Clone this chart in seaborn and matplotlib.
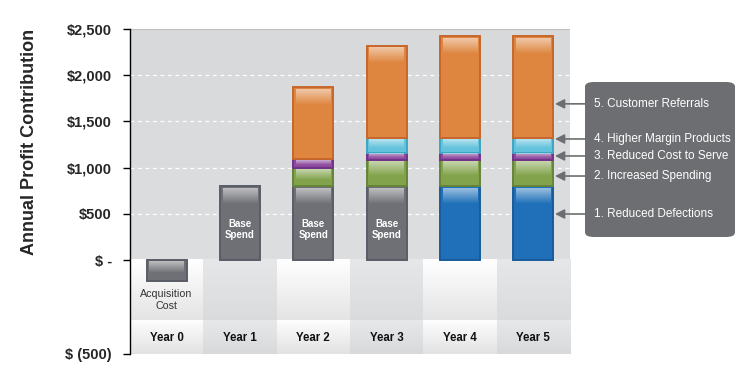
import matplotlib
matplotlib.use("Agg")
import matplotlib.pyplot as plt
import numpy as np
import pandas as pd
import seaborn as sns
from matplotlib.colors import to_rgb
from matplotlib.patches import FancyBboxPatch

# data (dollars per customer, stacked bottom -> top)
years = ["Year 0", "Year 1", "Year 2", "Year 3", "Year 4", "Year 5"]
base_spend = [0, 800, 800, 800, 0, 0]
reduced_defections = [0, 0, 0, 0, 800, 800]
increased_spending = [0, 0, 200, 280, 280, 280]
reduced_cost_to_serve = [0, 0, 90, 80, 80, 80]
higher_margin_products = [0, 0, 0, 160, 160, 160]
customer_referrals = [0, 0, 780, 1000, 1100, 1100]
acquisition_cost = [-110, 0, 0, 0, 0, 0]

legend_labels = ["5. Customer Referrals", "4. Higher Margin Products",
                 "3. Reduced Cost to Serve", "2. Increased Spending",
                 "1. Reduced Defections"]
y_ticks = [2500, 2000, 1500, 1000, 500, 0]
y_tick_labels = ["$2,500", "$2,000", "$1,500", "$1,000", "$500", "$ -"]

df = pd.DataFrame({
    "year": years,
    "base_spend": base_spend,
    "reduced_defections": reduced_defections,
    "increased_spending": increased_spending,
    "reduced_cost_to_serve": reduced_cost_to_serve,
    "higher_margin_products": higher_margin_products,
    "customer_referrals": customer_referrals,
    "acquisition_cost": acquisition_cost,
})

# the part of the axis below zero is squeezed: $500 there spans ~2x as much room
NEG_SCALE = 2.034
Y_BOTTOM = -500 * NEG_SCALE
ROW_SPLIT = -650      # boundary between the note row and the year row
BAR_W = 0.545

sns.set_style("white")
plt.rcParams["font.family"] = ["Liberation Sans", "DejaVu Sans"]

fig = plt.figure(figsize=(7.55, 3.8), dpi=100)
ax = fig.add_axes([130 / 755, 26 / 380, 440 / 755, 325 / 380])


def gradient_box(x0, x1, y0, y1, c_top, c_bottom, z):
    t = np.linspace(0, 1, 64)[:, None]
    rgb = (1 - t) * np.array(to_rgb(c_top)) + t * np.array(to_rgb(c_bottom))
    ax.imshow(rgb[:, None, :], extent=(x0, x1, y0, y1), origin="upper",
              aspect="auto", zorder=z, interpolation="bilinear")


def add_gloss(patch):
    x, w = patch.get_x(), patch.get_width()
    y0 = min(patch.get_y(), patch.get_y() + patch.get_height())
    y1 = max(patch.get_y(), patch.get_y() + patch.get_height())
    h = y1 - y0
    top = y1 - min(22, h * 0.15)
    g = min(h * 0.55, 170)
    a = np.linspace(0.55, 0.0, 64)[:, None]
    rgba = np.ones((64, 1, 4))
    rgba[:, :, 3] = a
    ax.imshow(rgba, extent=(x + 0.035, x + w - 0.035, top - g, top),
              origin="upper", aspect="auto", zorder=4, interpolation="bilinear")


# plot background: grey panel above zero, table-like columns below
gradient_box(-0.5, 5.5, 0, 2500, "#d8d9db", "#dddedf", 0.2)
for i in range(len(years)):
    if i % 2 == 0:
        gradient_box(i - 0.5, i + 0.5, ROW_SPLIT, 0, "#ffffff", "#e4e4e5", 0.3)
        gradient_box(i - 0.5, i + 0.5, Y_BOTTOM, ROW_SPLIT, "#fdfdfd", "#e2e2e3", 0.3)
    else:
        gradient_box(i - 0.5, i + 0.5, ROW_SPLIT, 0, "#e6e7e8", "#dadbdc", 0.3)
        gradient_box(i - 0.5, i + 0.5, Y_BOTTOM, ROW_SPLIT, "#e7e8e9", "#d8d9da", 0.3)

for v in [500, 1000, 1500, 2000]:
    ax.axhline(v, color="white", lw=0.9, ls=(0, (3, 3)), zorder=1)
ax.axhline(2500, color="#bfc0c2", lw=0.8, zorder=1)

layers = [
    ("base_spend", "#6f7076", "#5a5c67"),
    ("reduced_defections", "#1f70b8", "#185c9c"),
    ("increased_spending", "#82a34b", "#65853a"),
    ("reduced_cost_to_serve", "#8e4a9e", "#723389"),
    ("higher_margin_products", "#63c3dd", "#3fa5c5"),
    ("customer_referrals", "#de853f", "#c7672b"),
]

bottom = np.zeros(len(years))
for col, face, edge in layers:
    vals = df[col].to_numpy(dtype=float)
    n0 = len(ax.patches)
    sns.barplot(x=df["year"], y=vals, order=years, color=face, edgecolor=edge,
                linewidth=1.4, width=BAR_W, saturation=1, errorbar=None,
                bottom=bottom.copy(), zorder=3, ax=ax)
    for p in ax.patches[n0:]:
        if p.get_height() == 0:
            p.set_visible(False)
        else:
            add_gloss(p)
    bottom += vals

# acquisition cost sits on the squeezed negative part of the axis
n0 = len(ax.patches)
sns.barplot(x=df["year"], y=df["acquisition_cost"] * NEG_SCALE, order=years,
            color="#6f7076", edgecolor="#5a5c67", linewidth=1.4, width=BAR_W,
            saturation=1, errorbar=None, zorder=3, ax=ax)
for p in ax.patches[n0:]:
    if p.get_height() == 0:
        p.set_visible(False)
    else:
        add_gloss(p)

# text inside the chart
for i, v in enumerate(base_spend):
    if v > 0:
        ax.text(i, 330, "Base\nSpend", ha="center", va="center", color="white",
                fontsize=7, fontweight="bold", linespacing=1.15, zorder=5)
ax.text(0, -433, "Acquisition\nCost", ha="center", va="center", color="#333333",
        fontsize=7.7, linespacing=1.3, zorder=5)
for i, y in enumerate(years):
    ax.text(i, -844, y, ha="center", va="center", fontsize=8.3,
            fontweight="bold", color="#111111", zorder=5)

ax.set_xlim(-0.5, 5.5)
ax.set_ylim(Y_BOTTOM, 2500)
ax.set_xticks([])
ax.set_xlabel("")
ax.set_ylabel("")
ax.set_yticks(y_ticks + [Y_BOTTOM])
ax.set_yticklabels(y_tick_labels + ["$ (500)"], fontsize=10.5, fontweight="bold")
ax.tick_params(axis="y", direction="out", length=5, width=1, pad=8, color="black",
               left=True)
for s in ["top", "right", "bottom"]:
    ax.spines[s].set_visible(False)
ax.spines["left"].set_color("black")
ax.spines["left"].set_linewidth(1)
ax.spines["left"].set_zorder(6)

fig.text(30 / 755, 1 - 142 / 380, "Annual Profit Contribution", rotation=90,
         ha="center", va="center", fontsize=13, fontweight="bold")

# callout box
box = FancyBboxPatch((585 / 755, 1 - 237 / 380), 150 / 755, 155 / 380,
                     boxstyle="round,pad=0,rounding_size=0.012",
                     transform=fig.transFigure, facecolor="#6d6e71",
                     edgecolor="none", zorder=6, clip_on=False)
ax.add_patch(box)

label_y = [1690, 1310, 1126, 909, 498]
for lab, y in zip(legend_labels, label_y):
    ax.annotate("", xy=(5.296, y), xytext=(5.705, y),
                arrowprops=dict(arrowstyle="-|>,head_length=0.55,head_width=0.28",
                                color="#6d6e71", lw=1.2, shrinkA=0, shrinkB=0),
                annotation_clip=False, zorder=7)
    ax.text(5.83, y, lab, color="white", fontsize=8.5, va="center", ha="left",
            clip_on=False, zorder=8)

fig.savefig("out.png", dpi=100)
